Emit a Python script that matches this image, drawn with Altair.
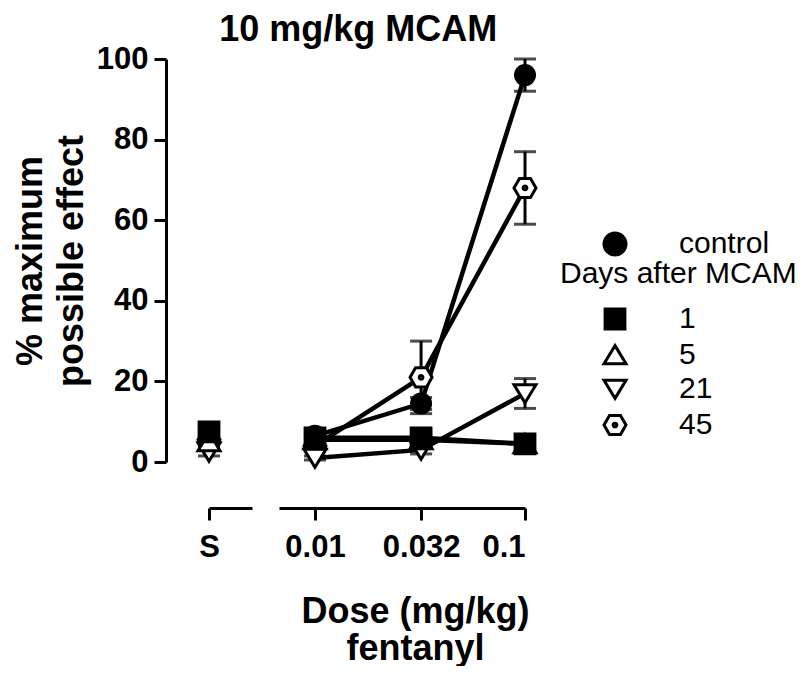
import altair as alt
import pandas as pd

# ---------------- data ----------------
series = ["control", "1", "5", "21", "45"]
dose_labels = ["S", "0.01", "0.032", "0.1"]
dose_values = [None, 0.01, 0.032, 0.1]

mpe_control = [5.5, 6.5, 14.5, 96.0]
mpe_d1 = [7.5, 6.0, 6.0, 4.5]
mpe_d5 = [5.0, 5.5, 5.5, 4.5]
mpe_d21 = [2.5, 1.0, 3.0, 17.0]
mpe_d45 = [5.5, 4.0, 21.0, 68.0]

sem_control = [1.5, 1.0, 1.5, 4.0]
sem_d1 = [1.5, 1.0, 1.0, 1.0]
sem_d5 = [1.0, 1.0, 1.0, 1.0]
sem_d21 = [1.0, 0.5, 1.0, 3.7]
sem_d45 = [1.0, 1.0, 9.0, 9.0]

days_series = ["1", "5", "21", "45"]
y_ticks = [0, 20, 40, 60, 80, 100]

# ---------------- table ----------------
means = {"control": mpe_control, "1": mpe_d1, "5": mpe_d5, "21": mpe_d21, "45": mpe_d45}
sems = {"control": sem_control, "1": sem_d1, "5": sem_d5, "21": sem_d21, "45": sem_d45}
rows = []
for s in series:
    for lab, dv, m, e in zip(dose_labels, dose_values, means[s], sems[s]):
        rows.append({"series": s, "label": lab, "dose": dv, "mpe": m,
                     "lo": m - e, "hi": m + e})
df = pd.DataFrame(rows)
caps = df.melt(id_vars=["series", "label", "dose"], value_vars=["lo", "hi"],
               var_name="end", value_name="cap")
# draw later-day markers first so that day-1 squares sit on top
df_pts = df.iloc[::-1].reset_index(drop=True)

df_s = df[df["label"] == "S"]
df_d = df[df["label"] != "S"]
pts_s = df_pts[df_pts["label"] == "S"]
pts_d = df_pts[df_pts["label"] != "S"]
caps_s = caps[caps["label"] == "S"]
caps_d = caps[caps["label"] != "S"]

# ---------------- styling ----------------
FONT = "Liberation Sans"
SQUARE = "M-0.9,-0.9L0.9,-0.9L0.9,0.9L-0.9,0.9Z"
TRI_UP = "M0,-0.85L1,0.8L-1,0.8Z"
TRI_DOWN = "M0,0.85L1,-0.8L-1,-0.8Z"
HEX = ("M-1,0L-0.5,-0.866L0.5,-0.866L1,0L0.5,0.866L-0.5,0.866Z"
       "M0.17,0A0.17,0.17 0 1,1 -0.17,0A0.17,0.17 0 1,1 0.17,0Z")
MSIZE = 484

y_scale = alt.Scale(domain=[0, 100], nice=False, zero=False)

legend_common = dict(
    orient="none", labelFont=FONT, labelFontSize=30, labelColor="black",
    titleFont=FONT, titleFontSize=30, titleFontWeight="normal", titleColor="black",
    symbolSize=MSIZE, symbolStrokeWidth=3, symbolStrokeColor="black",
    symbolOffset=40, labelOffset=49, rowPadding=4, padding=0,
    labelLimit=0, titleLimit=0, legendX=351,
)
ctrl_legend = alt.Legend(title=None, legendY=170, symbolType="circle", **legend_common)
days_legend = alt.Legend(title="Days after MCAM", legendY=200, titlePadding=15,
                         **legend_common)

color_ctrl = alt.Color("series:N", scale=alt.Scale(domain=["control"], range=["black"]),
                       legend=ctrl_legend)
shape_days = alt.Shape("series:N", scale=alt.Scale(domain=days_series,
                       range=[SQUARE, TRI_UP, TRI_DOWN, HEX]), legend=days_legend)
fill_days = alt.Fill("series:N", scale=alt.Scale(domain=days_series,
                     range=["black", "white", "white", "white"]), legend=days_legend)
stroke_days = alt.Stroke("series:N", scale=alt.Scale(domain=days_series,
                         range=["black", "black", "black", "black"]), legend=days_legend)


def panel(data, pts, caps_data, x_enc, y_axis, with_lines):
    y_enc = alt.Y("mpe:Q", scale=y_scale, axis=y_axis)
    layers = []
    if with_lines:
        layers.append(alt.Chart(data).mark_line(color="black", strokeWidth=4.5).encode(
            x=x_enc, y=y_enc, detail="series:N", order="dose:Q"))
    layers.append(alt.Chart(data).mark_rule(color="black", strokeWidth=3).encode(
        x=x_enc, y=alt.Y("lo:Q", scale=y_scale, axis=y_axis), y2="hi:Q"))
    layers.append(alt.Chart(caps_data).mark_tick(color="black", orient="horizontal",
                                                 size=22, thickness=3).encode(
        x=x_enc, y=alt.Y("cap:Q", scale=y_scale, axis=y_axis)))
    layers.append(alt.Chart(pts).transform_filter(alt.datum.series == "control")
                  .mark_point(filled=True, size=MSIZE, shape="circle", opacity=1).encode(
        x=x_enc, y=y_enc, color=color_ctrl))
    layers.append(alt.Chart(pts).transform_filter(alt.datum.series != "control")
                  .mark_point(filled=False, size=MSIZE, strokeWidth=3, opacity=1).encode(
        x=x_enc, y=y_enc, shape=shape_days, fill=fill_days, stroke=stroke_days))
    return alt.layer(*layers)


axis_common = dict(domainColor="black", domainWidth=3, tickColor="black", tickWidth=3,
                   tickSize=12, labelFont=FONT, labelFontSize=31, labelFontWeight="bold",
                   labelColor="black", titleFont=FONT, titleFontSize=36,
                   titleFontWeight="bold", titleColor="black", grid=False)

y_axis_left = alt.Axis(values=y_ticks, offset=43, labelPadding=6, titlePadding=6,
                       title=["% maximum", "possible effect"], titleLineHeight=41,
                       **axis_common)

x_left = alt.X("label:N", scale=alt.Scale(type="point", domain=["S"], padding=0, align=0),
               axis=alt.Axis(title=None, offset=46, labelAngle=0, labelPadding=12,
                             **axis_common))
x_right = alt.X("dose:Q",
                scale=alt.Scale(type="log", domain=[10 ** -2.1714, 0.1], nice=False),
                axis=alt.Axis(values=[v for v in dose_values if v is not None],
                              format="~g", offset=46, labelPadding=12, titlePadding=32,
                              title=["Dose (mg/kg)", "fentanyl"], titleLineHeight=37,
                              titleX=136, **axis_common))

left = panel(df_s, pts_s, caps_s, x_left, y_axis_left, False).properties(width=43, height=403)
right = panel(df_d, pts_d, caps_d, x_right, None, True).properties(width=246, height=403)

chart = alt.hconcat(left, right, spacing=27).properties(
    title=alt.TitleParams("10 mg/kg MCAM", font=FONT, fontSize=36, fontWeight="bold",
                          color="black", anchor="start", frame="bounds", dx=207,
                          offset=-6),
    padding={"left": 4, "top": 4, "right": 0, "bottom": 0},
).configure_view(stroke=None)

chart.save("out.html", embed_options={"renderer": "svg", "actions": False})
